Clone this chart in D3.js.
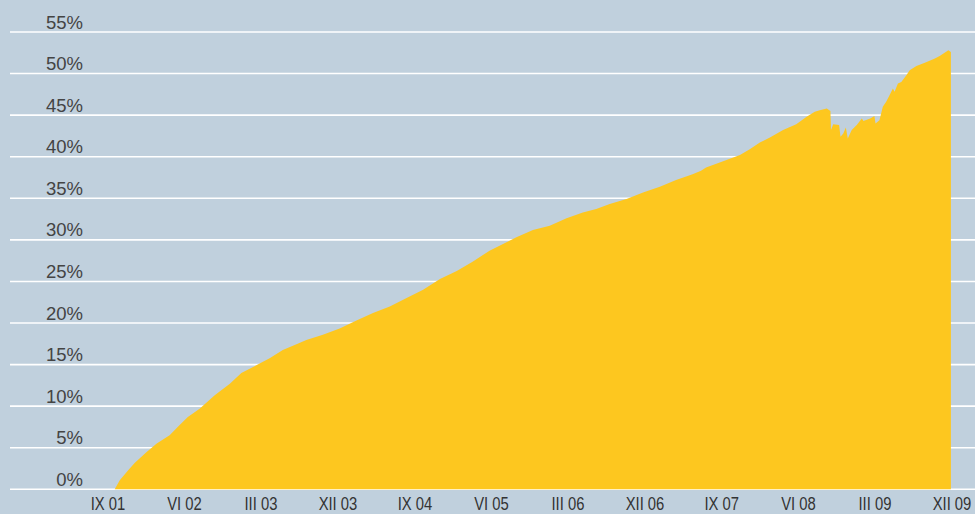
<!DOCTYPE html>
<html>
<head>
<meta charset="utf-8">
<script src="https://cdn.jsdelivr.net/npm/d3@7"></script>
<style>
  html, body { margin: 0; padding: 0; background: #c0d0dd; }
  svg { display: block; }
</style>
</head>
<body>
<svg id="chart" width="975" height="514"></svg>
<script>
// ---- data ----
const dates = [
  "2001-09-25","2001-10-13","2001-11-12","2001-12-06","2002-01-17","2002-02-22","2002-04-09","2002-05-14",
  "2002-06-13","2002-07-25","2002-09-17","2002-11-10","2002-12-21","2003-02-14","2003-04-01","2003-05-18",
  "2003-07-10","2003-08-10","2003-10-08","2003-12-07","2004-02-05","2004-04-04","2004-06-03","2004-08-02",
  "2004-09-30","2004-11-29","2005-01-28","2005-03-27","2005-05-25","2005-07-30","2005-08-29","2005-10-27",
  "2005-12-26","2006-02-24","2006-04-23","2006-06-10","2006-07-28","2006-09-26","2006-11-24","2007-01-23",
  "2007-03-22","2007-05-20","2007-06-19","2007-07-07","2007-09-18","2007-11-05","2007-12-10","2008-01-15",
  "2008-02-20","2008-04-07","2008-05-24","2008-06-30","2008-07-29","2008-08-16","2008-09-10","2008-09-23",
  "2008-09-25","2008-10-03","2008-10-24","2008-10-29","2008-11-08","2008-11-17","2008-11-24","2008-12-08",
  "2008-12-26","2009-01-13","2009-01-19","2009-02-12","2009-02-27","2009-03-03","2009-03-17","2009-03-29",
  "2009-04-10","2009-04-22","2009-05-04","2009-05-10","2009-05-22","2009-06-03","2009-06-21","2009-07-03",
  "2009-07-27","2009-08-26","2009-10-01","2009-10-18","2009-11-18","2009-11-27"
];
const values = [
  0.0, 1.1, 2.3, 3.2, 4.5, 5.5, 6.5, 7.7,
  8.7, 9.7, 11.3, 12.7, 14.0, 14.95, 15.75, 16.75,
  17.5, 17.95, 18.6, 19.35, 20.3, 21.2, 22.0, 23.0,
  24.0, 25.3, 26.25, 27.4, 28.7, 29.8, 30.3, 31.2,
  31.7, 32.6, 33.3, 33.7, 34.3, 34.9, 35.7, 36.4,
  37.2, 37.9, 38.3, 38.7, 39.6, 40.2, 40.9, 41.7,
  42.3, 43.2, 43.9, 44.8, 45.4, 45.6, 45.8, 45.5,
  43.2, 43.9, 43.8, 42.4, 42.8, 43.5, 42.2, 43.2,
  43.8, 44.6, 44.3, 44.6, 44.9, 44.0, 44.4, 46.0,
  46.6, 47.4, 48.2, 47.8, 48.8, 49.0, 49.8, 50.4,
  50.9, 51.3, 51.8, 52.1, 52.8, 52.6
];
const yTicks = [0, 5, 10, 15, 20, 25, 30, 35, 40, 45, 50, 55];
const xTickDates = ["2001-09-01","2002-06-01","2003-03-01","2003-12-01","2004-09-01","2005-06-01",
                    "2006-03-01","2006-12-01","2007-09-01","2008-06-01","2009-03-01","2009-12-01"];
const romanMonths = ["I","II","III","IV","V","VI","VII","VIII","IX","X","XI","XII"];

// ---- drawing ----
const parse = d3.utcParse("%Y-%m-%d");
const data = dates.map((d, i) => ({ date: parse(d), value: values[i] }));

const svg = d3.select("#chart");
const x = d3.scaleUtc()
  .domain([parse("2001-09-01"), parse("2009-12-01")])
  .range([108, 952]);
const y = d3.scaleLinear().domain([0, 55]).range([489.3, 32]);

// gridlines
svg.append("g")
  .selectAll("line")
  .data(yTicks)
  .join("line")
  .attr("x1", 10).attr("x2", 975)
  .attr("y1", d => y(d)).attr("y2", d => y(d))
  .attr("stroke", "#ffffff")
  .attr("stroke-width", 1.6);

// area
const area = d3.area()
  .x(d => x(d.date))
  .y0(y(0))
  .y1(d => y(d.value))
  .curve(d3.curveLinear);

svg.append("path")
  .datum(data)
  .attr("d", area)
  .attr("fill", "#fdc71f");

// y labels
svg.append("g")
  .selectAll("text")
  .data(yTicks)
  .join("text")
  .attr("x", 83)
  .attr("y", d => y(d) - 3.5)
  .attr("text-anchor", "end")
  .attr("font-family", "'Liberation Sans', Arial, sans-serif")
  .attr("font-size", 18.5)
  .attr("fill", "#444")
  .text(d => d + "%");

// x labels
svg.append("g")
  .selectAll("text")
  .data(xTickDates.map(parse))
  .join("text")
  .attr("transform", d => `translate(${x(d)},509.5) scale(0.78,1)`)
  .attr("text-anchor", "middle")
  .attr("font-family", "'Liberation Sans', Arial, sans-serif")
  .attr("font-size", 19)
  .attr("fill", "#333")
  .text(d => romanMonths[d.getUTCMonth()] + " " + d3.utcFormat("%y")(d));
</script>
</body>
</html>
